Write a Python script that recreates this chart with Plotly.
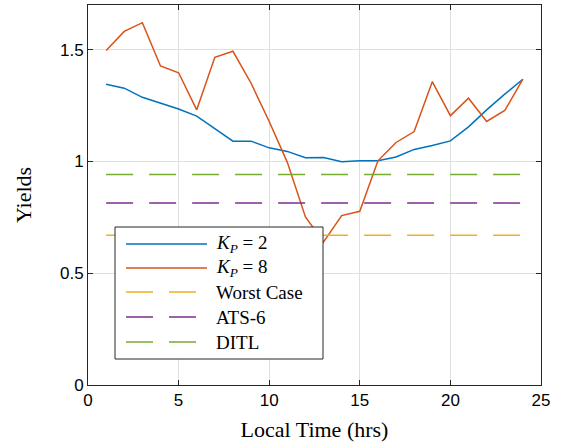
import plotly.graph_objects as go

# Local time (hours) and yields for the two Kp cases
hours = list(range(1, 25))
yield_kp2 = [1.345, 1.328, 1.287, 1.261, 1.235, 1.203, 1.146, 1.091, 1.091, 1.061,
             1.045, 1.017, 1.018, 0.999, 1.003, 1.003, 1.020, 1.054, 1.071, 1.092,
             1.155, 1.231, 1.301, 1.368]
yield_kp8 = [1.496, 1.582, 1.621, 1.427, 1.397, 1.231, 1.466, 1.493, 1.350, 1.179,
             0.996, 0.752, 0.640, 0.758, 0.777, 1.003, 1.085, 1.134, 1.357, 1.205,
             1.283, 1.179, 1.228, 1.368]

# Reference yield levels
worst_case = 0.670
ats6 = 0.814
ditl = 0.942

x_ticks = [0, 5, 10, 15, 20, 25]
y_ticks = [0, 0.5, 1, 1.5]
y_tick_text = ["0", "0.5", "1", "1.5"]

series_names = ["<i>K</i><sub><i>P</i></sub> = 2", "<i>K</i><sub><i>P</i></sub> = 8",
                "Worst Case", "ATS-6", "DITL"]
colors = ["#0072BD", "#D95319", "#EDB120", "#7E2F8E", "#77AC30"]
dashes = ["solid", "solid", "27px,16px", "27px,16px", "27px,16px"]

W, H = 561, 448
ML, MR, MT, MB = 88, 20, 5, 63
PW, PH = W - ML - MR, H - MT - MB

serif = "Liberation Serif, Times New Roman, serif"
sans = "Liberation Sans, Arial, sans-serif"


def px_to_paper(px, py):
    return (px - ML) / PW, (H - MB - py) / PH


fig = go.Figure()
fig.add_trace(go.Scatter(x=hours, y=yield_kp2, mode="lines", name=series_names[0],
                         line=dict(color=colors[0], width=1.5)))
fig.add_trace(go.Scatter(x=hours, y=yield_kp8, mode="lines", name=series_names[1],
                         line=dict(color=colors[1], width=1.5)))
for i, level in zip(range(2, 5), [worst_case, ats6, ditl]):
    fig.add_trace(go.Scatter(x=[hours[0], hours[-1]], y=[level, level], mode="lines",
                             name=series_names[i],
                             line=dict(color=colors[i], width=1.5, dash=dashes[i])))

# Boxed legend drawn in paper coordinates
shapes, annotations = [], []
x0, y0 = px_to_paper(115, 227)
x1, y1 = px_to_paper(323, 359)
shapes.append(dict(type="rect", xref="paper", yref="paper", x0=x0, y0=y1, x1=x1, y1=y0,
                   fillcolor="white", line=dict(color="#262626", width=1), layer="above"))
row_y = [244, 268, 292, 317, 342]
for i, ry in enumerate(row_y):
    end_px = 207 if dashes[i] == "solid" else 197
    lx0, ly = px_to_paper(126, ry)
    lx1, _ = px_to_paper(end_px, ry)
    shapes.append(dict(type="line", xref="paper", yref="paper", x0=lx0, x1=lx1, y0=ly, y1=ly,
                       line=dict(color=colors[i], width=1.5, dash=dashes[i]), layer="above"))
    tx, _ = px_to_paper(214, ry)
    annotations.append(dict(xref="paper", yref="paper", x=tx, y=ly, text=series_names[i],
                            showarrow=False, xanchor="left", yanchor="middle",
                            font=dict(family=serif, size=19, color="#000")))

axis_common = dict(
    showline=True, linecolor="#262626", linewidth=1, mirror="ticks",
    ticks="inside", ticklen=5, tickcolor="#262626",
    showgrid=True, gridcolor="#dfdfdf", gridwidth=1, zeroline=False,
    tickfont=dict(family=sans, size=17, color="#000"),
)

fig.update_layout(
    width=W, height=H,
    margin=dict(l=ML, r=MR, t=MT, b=MB),
    paper_bgcolor="white", plot_bgcolor="white",
    xaxis=dict(range=[0, 25], tickvals=x_ticks,
               title=dict(text="Local Time (hrs)", standoff=12,
                          font=dict(family=serif, size=22, color="#000")),
               **axis_common),
    yaxis=dict(range=[0, 1.7], tickvals=y_ticks, ticktext=y_tick_text,
               title=dict(text="Yields", standoff=22,
                          font=dict(family=serif, size=22, color="#000")),
               **axis_common),
    shapes=shapes,
    annotations=annotations,
    showlegend=False,
)

fig.write_html("out.html")
